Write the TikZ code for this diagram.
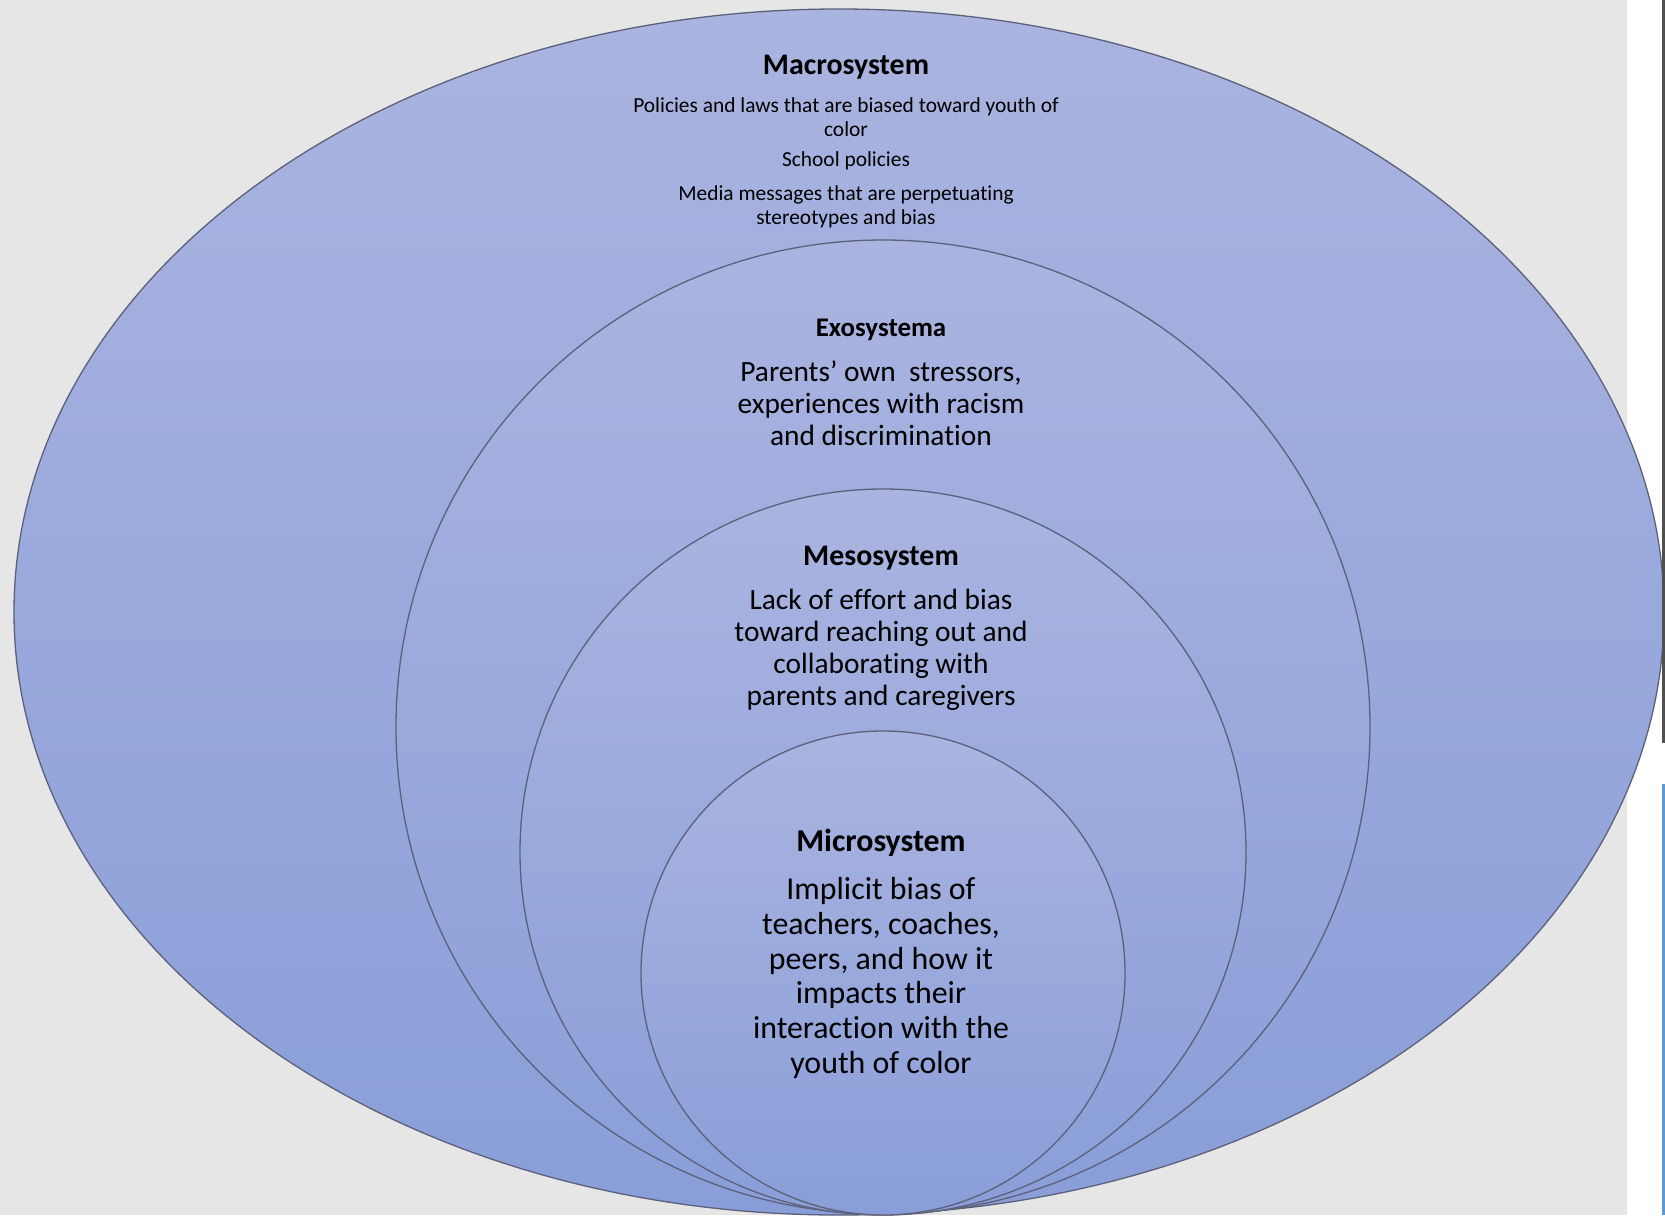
\documentclass[tikz,border=0pt]{standalone}
\usepackage{fontspec}
\setmainfont[Ligatures=NoCommon]{Carlito}
\begin{document}
\begin{tikzpicture}[x=1bp,y=-1bp,
  ring/.style={draw=ringline, line width=1.3bp, shading=axis,
    top color=fillTop, bottom color=fillBot},
  title/.style={font=\bfseries\fontsize{#1}{#1}\selectfont, inner sep=0pt},
  body/.style 2 args={font=\fontsize{#1}{#2}\selectfont, align=center, inner sep=0pt}]
  \definecolor{bgGray}{RGB}{230,230,230}
  \definecolor{fillTop}{RGB}{170,180,224}
  \definecolor{fillBot}{RGB}{137,158,216}
  \definecolor{ringline}{RGB}{92,96,122}
  \definecolor{barDark}{RGB}{80,80,80}
  \definecolor{barBlue}{RGB}{91,155,213}
  % canvas
  \useasboundingbox (0,0) rectangle (1665,1215);
  \fill[bgGray] (0,0) rectangle (1627,1215);
  \fill[white] (1627,0) rectangle (1665,1215);
  \begin{scope}
    \clip (0,0) rectangle (1665,1215);
    % nested systems
    \path[ring] (839,612) ellipse [x radius=825bp, y radius=603bp];
    \path[ring] (883,727) circle [radius=487bp];
    \path[ring] (883,852) circle [radius=363bp];
    \path[ring] (883,973) circle [radius=242bp];
  \end{scope}
  % window edge bars
  \fill[barDark] (1662,0) rectangle (1665,743);
  \fill[barBlue] (1662,784) rectangle (1665,1215);
  % macrosystem
  \node[title=30] (macroTitle) at (846,67) {Macrosystem};
  \node[body={21.5}{24}] (macroP1) at (846,117) {Policies and laws that are biased toward youth of\\color};
  \node[body={21.5}{24}] (macroP2) at (846,161) {School policies};
  \node[body={21.5}{24}] (macroP3) at (846,207) {Media messages that are perpetuating\\stereotypes and bias};
  % exosystem
  \node[title=27] (exoTitle) at (881,330) {Exosystema};
  \node[body={29.5}{32}] (exoBody) at (881,403) {Parents’ own\ \ stressors,\\experiences with racism\\and discrimination};
  % mesosystem
  \node[title=30] (mesoTitle) at (881,558) {Mesosystem};
  \node[body={29.5}{32}] (mesoBody) at (881,650) {Lack of effort and bias\\toward reaching out and\\collaborating with\\parents and caregivers};
  % microsystem
  \node[title=32] (microTitle) at (881,843) {Microsystem};
  \node[body={32}{35}] (microBody) at (881,978) {Implicit bias of\\teachers, coaches,\\peers, and how it\\impacts their\\interaction with the\\youth of color};
\end{tikzpicture}
\end{document}
